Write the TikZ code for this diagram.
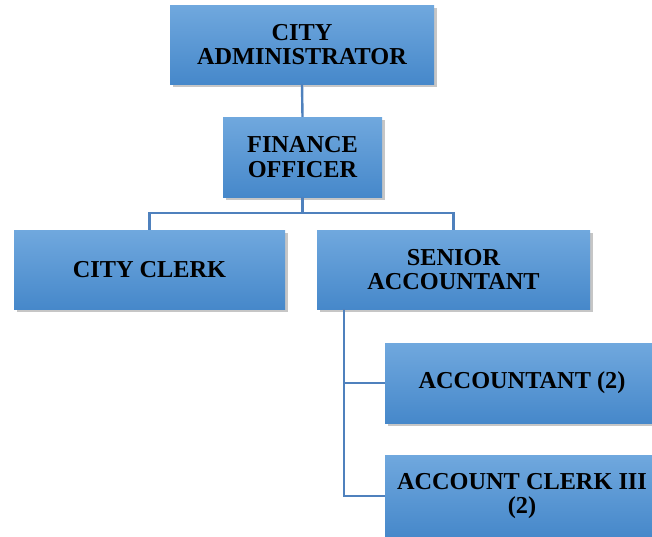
\documentclass[tikz,border=0pt]{standalone}
\usepackage{fontspec}
\setmainfont{Liberation Serif}
\usetikzlibrary{positioning,shadows,calc}
\definecolor{boxtop}{RGB}{112,168,222}
\definecolor{boxbottom}{RGB}{70,136,202}
\definecolor{linkblue}{RGB}{79,129,189}
\tikzset{
    %office boxes of the chart
    office/.style={rectangle, top color=boxtop, bottom color=boxbottom, draw=none,
        drop shadow={shadow xshift=3pt, shadow yshift=-3pt, opacity=0.45},
        align=center, font=\bfseries\fontsize{24.3}{24.7}\selectfont, inner sep=2pt},
    link/.style={draw=linkblue, line width=2.4pt}
}
\begin{document}
\begin{tikzpicture}[x=1pt, y=-1pt]
	\clip (0,0) rectangle (652,536);

	\node (admin) at (302, 44.5) [office, minimum width=264pt, minimum height=79pt] {CITY\\ADMINISTRATOR};
	\node (finance) at (302.5, 157) [office, minimum width=159pt, minimum height=80pt] {FINANCE\\OFFICER};

	\node (clerk) at (149.5, 269.5) [office, minimum width=271pt, minimum height=79pt] {CITY CLERK};
	\node (senior) at (453.5, 269.5) [office, minimum width=273pt, minimum height=79pt] {SENIOR\\ACCOUNTANT};

	\node (accountant) at (522, 383) [office, minimum width=274pt, minimum height=80pt] {ACCOUNTANT (2)};
	\node (clerkiii) at (522, 496) [office, minimum width=274pt, minimum height=82pt] {ACCOUNT CLERK III\\(2)};

	% connectors
	\draw[link] (admin.south) -- (finance.north);
	\draw[link] (finance.south) -- ++(0,16) -| (clerk.north);
	\draw[link] (finance.south) -- ++(0,16) -| (senior.north);
	\draw[link] ([xshift=27pt]senior.south west) |- (accountant.west);
	\draw[link] ([xshift=27pt]senior.south west) |- (clerkiii.west);

\end{tikzpicture}
\end{document}
